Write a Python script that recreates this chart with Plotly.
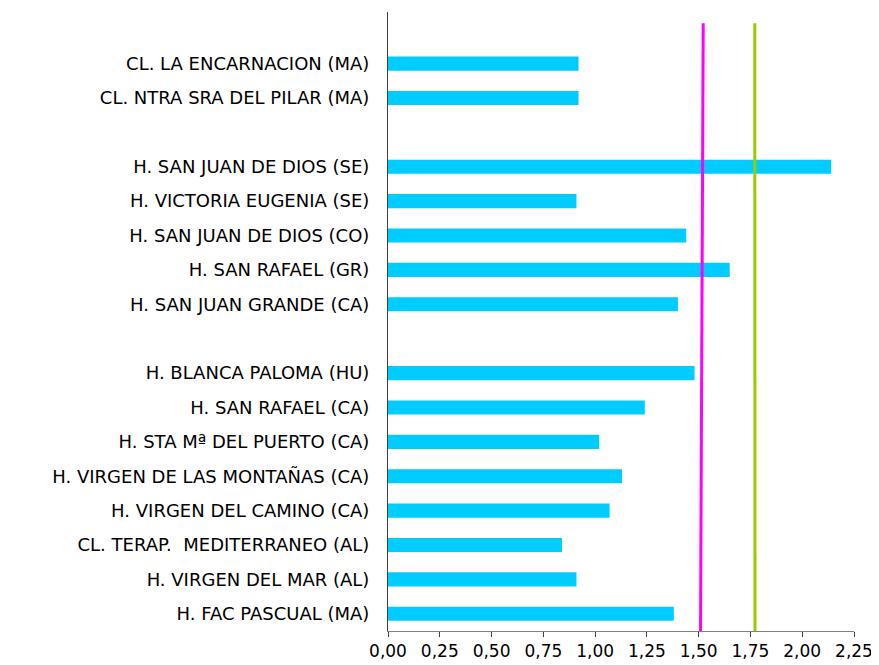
import plotly.graph_objects as go

# Top-to-bottom category labels (None = empty row)
categories = [
    None,
    "CL. LA ENCARNACION (MA)",
    "CL. NTRA SRA DEL PILAR (MA)",
    None,
    "H. SAN JUAN DE DIOS (SE)",
    "H. VICTORIA EUGENIA (SE)",
    "H. SAN JUAN DE DIOS (CO)",
    "H. SAN RAFAEL (GR)",
    "H. SAN JUAN GRANDE (CA)",
    None,
    "H. BLANCA PALOMA (HU)",
    "H. SAN RAFAEL (CA)",
    "H. STA Mª DEL PUERTO (CA)",
    "H. VIRGEN DE LAS MONTAÑAS (CA)",
    "H. VIRGEN DEL CAMINO (CA)",
    "CL. TERAP.  MEDITERRANEO (AL)",
    "H. VIRGEN DEL MAR (AL)",
    "H. FAC PASCUAL (MA)",
]
values = [
    None,
    0.92, 0.92,
    None,
    2.14, 0.91, 1.44, 1.65, 1.40,
    None,
    1.48, 1.24, 1.02, 1.13, 1.07, 0.84, 0.91, 1.38,
]
# reference lines: [value at bottom, value at top]
magenta_line = [1.509, 1.522]
green_line = [1.772, 1.771]
x_ticks = [0, 0.25, 0.5, 0.75, 1.0, 1.25, 1.5, 1.75, 2.0, 2.25]

n = len(categories)
ypos = [n - 1 - i for i in range(n)]

bar_y = [y for y, c in zip(ypos, categories) if c is not None]
bar_x = [v for v, c in zip(values, categories) if c is not None]
bar_lab = [c for c in categories if c is not None]

fig = go.Figure()
fig.add_trace(go.Bar(
    x=bar_x, y=bar_y, orientation="h",
    marker=dict(color="#00CCFF", line=dict(width=0)),
    width=0.41, showlegend=False, hoverinfo="x+text", text=bar_lab,
    textposition="none",
))

for vals, col in [(magenta_line, "#FF00FF"), (green_line, "#99CC00")]:
    fig.add_shape(type="line", xref="x", yref="paper",
                  x0=vals[0], x1=vals[1], y0=0, y1=0.982,
                  line=dict(color=col, width=3), layer="above")

FONT = "DejaVu Sans, Verdana, sans-serif"
fig.update_layout(
    width=871, height=657,
    margin=dict(l=380, r=25, t=4, b=34),
    paper_bgcolor="white", plot_bgcolor="white",
    separators=",.",
    font=dict(family=FONT, size=18, color="black"),
    xaxis=dict(
        range=[0, 2.25], tickvals=x_ticks, tickformat=".2f",
        showgrid=False, zeroline=False, showline=True, linecolor="#808080",
        linewidth=1, ticks="outside", ticklen=5, tickcolor="#404040",
        tickfont=dict(family=FONT, size=17, color="black"),
    ),
    yaxis=dict(
        range=[-0.5, n - 0.5], tickvals=bar_y, ticktext=bar_lab,
        showgrid=False, zeroline=False, showline=True, linecolor="#404040",
        linewidth=1, ticks="", ticklabelstandoff=14,
        tickfont=dict(family=FONT, size=18, color="black"),
    ),
    bargap=0.59,
)

fig.write_html("out.html")
